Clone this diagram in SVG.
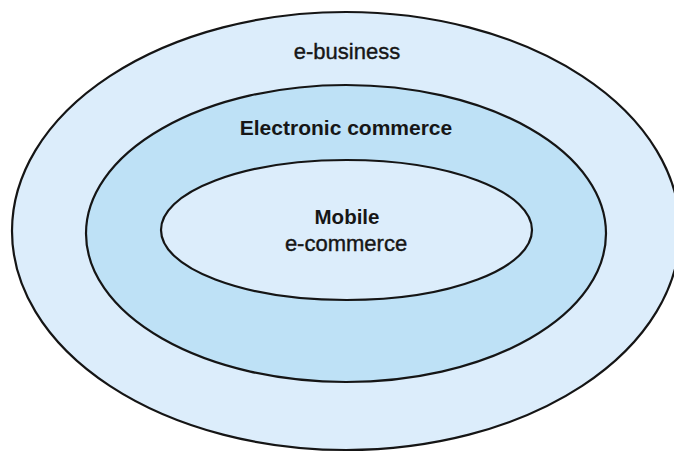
<svg xmlns="http://www.w3.org/2000/svg" width="674" height="452" viewBox="0 0 674 452">
<style>
.ring{stroke:#151515;stroke-width:2.2}
.light{fill:#dcedfb}
.mid{fill:#bee1f6}
.t{font-family:"Liberation Sans",Arial,sans-serif;fill:#161616;text-anchor:middle}
.r{stroke:#161616;stroke-width:0.4}
.b{font-weight:bold}
</style>
<rect width="674" height="452" fill="#ffffff"/>
<g id="e-business">
<ellipse class="ring light" cx="346" cy="231" rx="334" ry="219"/>
<text class="t r" x="347" y="59" font-size="22">e-business</text>
</g>
<g id="electronic-commerce">
<ellipse class="ring mid" cx="346" cy="233.5" rx="260" ry="148.5"/>
<text class="t b" x="346" y="135" font-size="21">Electronic commerce</text>
</g>
<g id="mobile-e-commerce">
<ellipse class="ring light" cx="346.5" cy="230" rx="185.5" ry="70"/>
<text class="t b" x="347" y="224" font-size="20.5">Mobile</text>
<text class="t r" x="346" y="251" font-size="22">e-commerce</text>
</g>
<g id="connectors"/>
</svg>
